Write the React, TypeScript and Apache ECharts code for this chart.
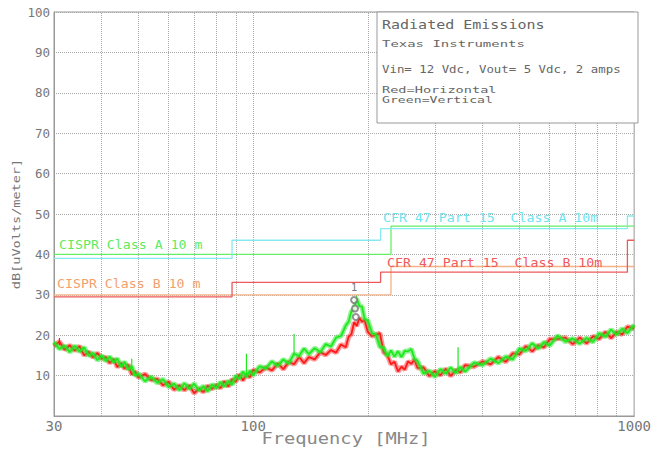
import React, { useEffect, useRef } from "react";
import * as echarts from "echarts";

// ---- Data ----
const freqMHz = [
  30, 31, 32, 33, 34, 35, 36, 37, 38, 39, 40, 41, 42, 43, 44, 45, 46, 47, 48, 49, 50,
  52, 54, 56, 58, 60, 62, 64, 66, 68, 70, 72, 74, 76, 78, 80, 82, 84, 86, 88, 90, 92, 94, 96, 98, 100,
  104, 108, 112, 116, 120, 124, 128, 132, 136, 140,
  145, 150, 155, 160, 165, 170, 175,
  178, 181, 184, 187, 190, 193, 196,
  200, 205, 210, 215, 220, 225, 230, 235, 240, 245, 250, 255, 260, 265, 270,
  280, 290, 300, 310, 320, 330, 340, 350, 360,
  380, 400, 420, 440, 460, 480, 500, 520, 540, 560, 580, 600,
  630, 660, 690, 720, 750, 780, 810, 840, 870, 900, 930, 960, 1000,
];

// Green = Vertical polarisation (dBuV/m)
const verticalDb = [
  18.3, 16.6, 17.4, 15.8, 17.4, 15.9, 17.0, 14.9, 15.6, 13.8, 15.0, 13.6, 14.7, 13.3, 14.2, 12.2, 13.4, 11.5, 12.3, 10.0, 10.5,
  8.6, 9.7, 8.2, 9.1, 7.2, 8.0, 6.4, 8.1, 6.7, 8.0, 6.3, 7.4, 6.1, 7.8, 6.9, 8.4, 7.3, 8.7, 7.7, 10.0, 9.2, 11.0, 9.7, 11.2, 10.1,
  12.3, 11.8, 13.5, 12.4, 14.0, 13.0, 15.4, 14.9, 16.7, 15.3,
  16.8, 15.8, 17.8, 17.2, 19.4, 19.8, 22.4,
  23.3, 25.9, 26.5, 29.0, 27.2, 27.1, 24.1,
  23.6, 20.6, 20.1, 17.1, 16.9, 14.8, 16.2, 14.7, 16.0, 14.6, 16.1, 16.0, 16.6, 14.2, 13.6,
  10.5, 11.2, 9.7, 11.6, 10.5, 12.0, 10.6, 12.1, 11.0,
  13.2, 12.6, 14.2, 13.1, 14.7, 14.0, 16.7, 16.1, 18.0, 16.7, 18.3, 17.4,
  19.9, 18.4, 19.2, 17.9, 19.3, 18.3, 20.5, 19.6, 21.4, 20.1, 21.6, 20.5, 22.6,
];

// Red = Horizontal polarisation (dBuV/m)
const horizontalDb = [
  17.3, 18.4, 16.4, 17.5, 16.2, 17.3, 15.0, 15.9, 14.5, 15.6, 14.2, 14.6, 13.1, 14.1, 12.1, 13.1, 11.7, 12.7, 10.3, 11.0, 9.5,
  10.4, 8.9, 9.2, 7.6, 8.5, 6.5, 7.6, 6.4, 7.6, 5.6, 6.8, 5.9, 7.5, 6.7, 7.7, 6.9, 8.6, 7.3, 9.1, 8.5, 10.3, 8.8, 10.3, 9.6, 11.4,
  10.8, 12.0, 11.3, 13.0, 11.6, 13.4, 12.8, 14.6, 13.1, 14.6,
  14.0, 15.8, 15.1, 16.3, 15.7, 17.7, 17.0,
  19.6, 20.2, 23.2, 22.3, 24.3, 23.3, 23.8,
  20.8, 19.8, 20.1, 20.5, 15.8, 15.1, 12.8, 13.4, 11.0, 12.2, 11.5, 13.5, 12.9, 14.0, 11.9,
  12.0, 9.9, 11.1, 10.1, 11.7, 9.9, 11.4, 10.8, 12.6,
  12.2, 13.5, 12.8, 14.6, 13.4, 15.5, 15.3, 17.3, 16.0, 17.5, 17.0, 19.0,
  19.1, 19.4, 17.8, 19.4, 18.0, 19.7, 19.1, 20.8, 19.3, 20.8, 20.2, 22.1, 21.6,
];

// Narrow-band spikes
const verticalSpikeFreq = [48, 96, 128, 345, 187];
const verticalSpikeBase = [11.5, 10.2, 15.0, 11.6, 28.0];
const verticalSpikeTop = [14.2, 15.4, 20.3, 17.0, 29.8];
const horizontalSpikeFreq = [31];
const horizontalSpikeBase = [17.5];
const horizontalSpikeTop = [19.3];

// Limit lines (step starts)
const cisprAFreq = [30, 230, 1000];
const cisprALevel = [40, 47, 47];
const cisprBFreq = [30, 230, 1000];
const cisprBLevel = [30, 37, 37];
const fccAFreq = [30, 88, 216, 960, 1000];
const fccALevel = [39, 43.5, 46.4, 49.5, 49.5];
const fccBFreq = [30, 88, 216, 960, 1000];
const fccBLevel = [29.5, 33.1, 35.6, 43.5, 43.5];

// Peak markers
const peakMarkerFreq = [184, 185, 186];
const peakMarkerDb = [28.7, 26.6, 24.5];

const gridFreqs = [40, 50, 60, 70, 80, 90, 100, 200, 300, 400, 500, 600, 700, 800, 900];

const MONO = '"DejaVu Sans Mono", monospace';
const RED = "#ff1a1a";
const GREEN = "#1ee81e";

export default function App() {
  const ref = useRef<HTMLDivElement>(null);
  useEffect(() => {
    if (!ref.current) return;
    const chart = echarts.init(ref.current, null, { renderer: "svg" });

    const stepSeries = (f: number[], l: number[], color: string, z: number, extra: any = {}) => ({
      type: "line",
      data: f.map((x, i) => [x, l[i]]),
      step: "end",
      symbol: "none",
      silent: true,
      z,
      lineStyle: { color, width: 1.3 },
      ...extra,
    });

    const trace = (vals: number[], color: string, z: number, width: number, opacity: number) => ({
      type: "line",
      data: freqMHz.map((f, i) => [f, vals[i]]),
      symbol: "none",
      silent: true,
      z,
      lineStyle: { color, width, opacity },
    });

    const spikes: any[] = [];
    verticalSpikeFreq.forEach((f, i) => {
      spikes.push({
        type: "line",
        data: [[f, verticalSpikeBase[i]], [f, verticalSpikeTop[i]]],
        symbol: "none",
        silent: true,
        z: 6,
        lineStyle: { color: GREEN, width: 1.2 },
      });
    });
    horizontalSpikeFreq.forEach((f, i) => {
      spikes.push({
        type: "line",
        data: [[f, horizontalSpikeBase[i]], [f, horizontalSpikeTop[i]]],
        symbol: "none",
        silent: true,
        z: 4,
        lineStyle: { color: RED, width: 1.2 },
      });
    });

    const txt = (text: string, x: number, y: number, size: number, fill: string, scaleX = 1) => ({
      type: "text",
      x,
      y,
      scaleX,
      z: 101,
      silent: true,
      style: { text, fontSize: size, fontFamily: MONO, fill, align: "left", verticalAlign: "middle" },
    });

    chart.setOption({
      animation: false,
      backgroundColor: "#ffffff",
      grid: { left: 54, top: 12, width: 584, height: 404, show: true, borderColor: "#999", borderWidth: 1 },
      xAxis: {
        type: "log",
        logBase: 10,
        min: 30,
        max: 1000,
        axisLine: { show: true, lineStyle: { color: "#999" } },
        axisTick: { show: false },
        splitLine: { show: false },
        axisLabel: {
          color: "#777",
          fontFamily: MONO,
          fontSize: 14,
          margin: 3,
          formatter: (v: number) => String(Math.round(v)),
        },
      },
      yAxis: {
        type: "value",
        min: 0,
        max: 100,
        interval: 10,
        axisLine: { show: true, lineStyle: { color: "#999" } },
        axisTick: { show: false },
        splitLine: { show: true, lineStyle: { color: "#aaa", type: "dotted", width: 1 } },
        axisLabel: {
          color: "#777",
          fontFamily: MONO,
          fontSize: 12.5,
          margin: 4,
          formatter: (v: number) => (v === 0 ? "" : String(v)),
        },
      },
      series: [
        stepSeries(cisprAFreq, cisprALevel, "#66ee66", 3, {
          markLine: {
            silent: true,
            z: 1,
            symbol: ["none", "none"],
            label: { show: false },
            lineStyle: { color: "#aaa", type: "dotted", width: 1 },
            data: gridFreqs.map((f) => ({ xAxis: f })),
          },
        }),
        stepSeries(fccAFreq, fccALevel, "#86e9f2", 3),
        stepSeries(cisprBFreq, cisprBLevel, "#f6b184", 3),
        stepSeries(fccBFreq, fccBLevel, "#ee5a5a", 3),
        trace(horizontalDb, RED, 4, 5, 0.45),
        trace(horizontalDb, RED, 4, 1.8, 1),
        trace(verticalDb, GREEN, 5, 5, 0.5),
        trace(verticalDb, GREEN, 5, 1.8, 1),
        ...spikes,
        {
          type: "scatter",
          data: peakMarkerFreq.map((f, i) => [f, peakMarkerDb[i]]),
          symbol: "emptyCircle",
          symbolSize: 6,
          silent: true,
          z: 7,
          itemStyle: { color: "#777", borderColor: "#777", borderWidth: 1 },
          label: {
            show: true,
            position: "top",
            distance: 3,
            color: "#555",
            fontFamily: MONO,
            fontSize: 11,
            formatter: (p: any) => (p.dataIndex === 0 ? "1" : ""),
          },
        },
      ],
      graphic: [
        {
          type: "rect",
          z: 100,
          silent: true,
          shape: { x: 377, y: 12, width: 261, height: 111 },
          style: { fill: "#ffffff", stroke: "#999", lineWidth: 1 },
        },
        txt("Radiated Emissions", 382, 25, 12, "#666", 1.25),
        txt("Texas Instruments", 382, 44, 9.5, "#666", 1.47),
        txt("Vin= 12 Vdc, Vout= 5 Vdc, 2 amps", 382, 70, 10, "#666", 1.24),
        txt("Red=Horizontal", 382, 90.5, 8.5, "#666", 1.6),
        txt("Green=Vertical", 382, 100.5, 8.5, "#666", 1.55),
        txt("CISPR Class A 10 m", 59, 245, 12.5, "#5fea5f", 1.06),
        txt("CISPR Class B 10 m", 57, 283.5, 12.5, "#f3a06c", 1.06),
        txt("CFR 47 Part 15  Class A 10m", 383, 217.5, 12.5, "#6fe3ef", 1.06),
        txt("CFR 47 Part 15  Class B 10m", 387, 262.5, 12.5, "#ef5a5a", 1.06),
        {
          type: "text",
          x: 346,
          y: 439,
          scaleX: 1.25,
          z: 101,
          silent: true,
          style: { text: "Frequency [MHz]", fontSize: 15, fontFamily: MONO, fill: "#888", align: "center", verticalAlign: "middle" },
        },
        {
          type: "text",
          x: 16,
          y: 224,
          rotation: Math.PI / 2,
          scaleX: 1.23,
          z: 101,
          silent: true,
          style: { text: "dB[uVolts/meter]", fontSize: 11, fontFamily: MONO, fill: "#777", align: "center", verticalAlign: "middle" },
        },
      ],
    });
    return () => chart.dispose();
  }, []);
  return <div ref={ref} style={{ position: "fixed", left: 0, top: 0, width: 654, height: 449 }} />;
}
